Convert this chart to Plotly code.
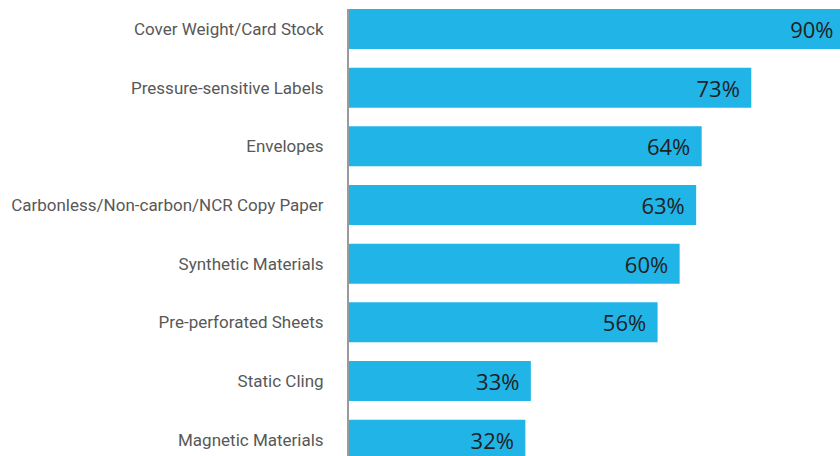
import plotly.graph_objects as go

categories = [
    "Cover Weight/Card Stock",
    "Pressure-sensitive Labels",
    "Envelopes",
    "Carbonless/Non-carbon/NCR Copy Paper",
    "Synthetic Materials",
    "Pre-perforated Sheets",
    "Static Cling",
    "Magnetic Materials",
]
values = [90, 73, 64, 63, 60, 56, 33, 32]

Y_TOP, Y_BOTTOM = -0.341, 7.278
TEXT_DROP = 0.06  # value labels sit slightly below the bar centre

fig = go.Figure()

fig.add_trace(
    go.Bar(
        x=values,
        y=categories,
        orientation="h",
        width=0.682,
        marker=dict(color="#21B4E7", line=dict(width=0)),
        cliponaxis=True,
        hoverinfo="skip",
    )
)

# value labels, right-aligned just inside each bar end
fig.add_trace(
    go.Scatter(
        x=values,
        y=categories,
        yaxis="y2",
        mode="text",
        text=[f"{v}%\u00a0\u00a0" for v in values],
        textposition="middle left",
        textfont=dict(family="Open Sans", size=22, color="#1f1f1f"),
        cliponaxis=True,
        hoverinfo="skip",
    )
)

fig.update_layout(
    width=840,
    height=456,
    margin=dict(l=349, r=0, t=9, b=0),
    paper_bgcolor="white",
    plot_bgcolor="white",
    showlegend=False,
    xaxis=dict(range=[0, 89.1], visible=False, fixedrange=True),
    yaxis=dict(
        categoryorder="array",
        categoryarray=categories,
        range=[Y_BOTTOM, Y_TOP],
        showline=True,
        linecolor="#9a9a9a",
        linewidth=2,
        showgrid=False,
        zeroline=False,
        ticks="",
        ticklabelstandoff=20,
        tickfont=dict(family="Roboto", size=17, color="#585858"),
        fixedrange=True,
    ),
    yaxis2=dict(
        overlaying="y",
        categoryorder="array",
        categoryarray=categories,
        range=[Y_BOTTOM - TEXT_DROP, Y_TOP - TEXT_DROP],
        visible=False,
        fixedrange=True,
    ),
)

fig.write_html("out.html")
